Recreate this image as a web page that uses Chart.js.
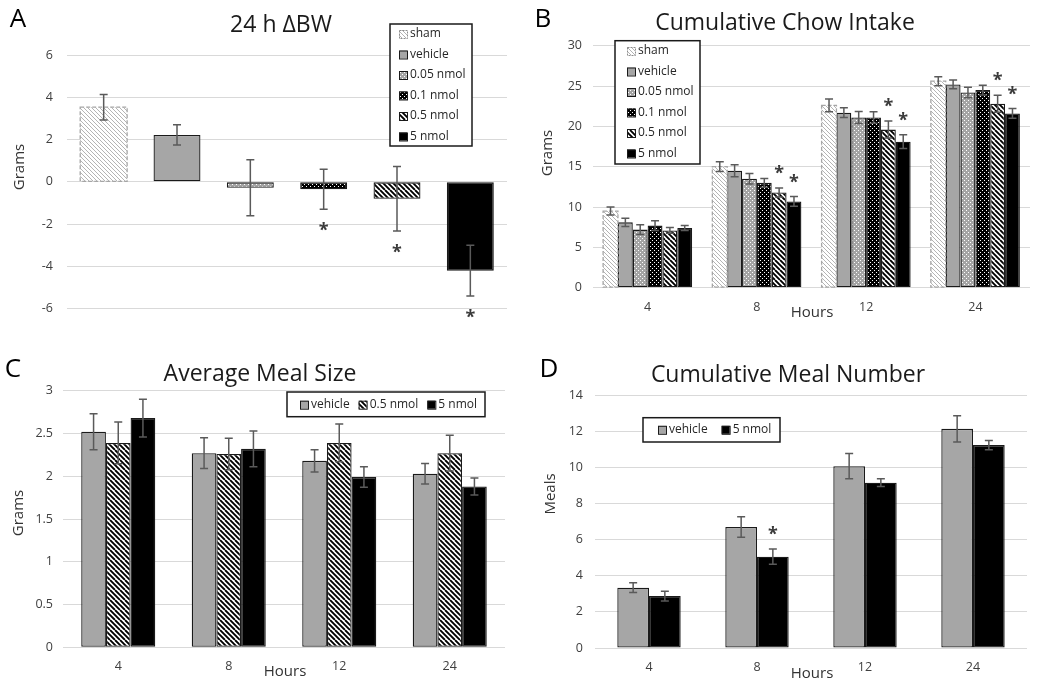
<!DOCTYPE html>
<html>
<head>
<meta charset="utf-8">
<title>Feeding panels</title>
<script src="https://cdn.jsdelivr.net/npm/chart.js@4.4.1/dist/chart.umd.min.js"></script>
<style>
  html, body { margin: 0; padding: 0; background: #fff; }
  #fig { position: relative; width: 1038px; height: 681px; font-family: "Open Sans", sans-serif; overflow: hidden; }
  #fig canvas { position: absolute; }
  .txt { position: absolute; transform: translate(-50%, -50%); white-space: nowrap; line-height: 1; }
  .letter { font-size: 26px; color: #000; }
  .title { font-size: 23px; color: #1a1a1a; }
  .axis { font-size: 15px; color: #333; }
  .vert { transform: translate(-50%, -50%) rotate(-90deg); }
</style>
</head>
<body>
<div id="fig">
  <canvas id="chartA" width="520" height="320" style="left:0;top:0"></canvas>
  <canvas id="chartB" width="518" height="320" style="left:520px;top:0"></canvas>
  <canvas id="chartC" width="520" height="361" style="left:0;top:320px"></canvas>
  <canvas id="chartD" width="518" height="361" style="left:520px;top:320px"></canvas>

  <div class="txt letter" style="left:18px;top:17px">A</div>
  <div class="txt letter" style="left:543px;top:17px">B</div>
  <div class="txt letter" style="left:13px;top:367px">C</div>
  <div class="txt letter" style="left:549px;top:367px">D</div>

  <div class="txt title" style="left:281px;top:23px">24 h ΔBW</div>
  <div class="txt title" style="left:785px;top:21px">Cumulative Chow Intake</div>
  <div class="txt title" style="left:260px;top:372px">Average Meal Size</div>
  <div class="txt title" style="left:788px;top:373px">Cumulative Meal Number</div>

  <div class="txt axis vert" style="left:18px;top:167px">Grams</div>
  <div class="txt axis vert" style="left:546px;top:153px">Grams</div>
  <div class="txt axis vert" style="left:17px;top:513px">Grams</div>
  <div class="txt axis vert" style="left:549px;top:494px">Meals</div>

  <div class="txt axis" style="left:812px;top:311px">Hours</div>
  <div class="txt axis" style="left:285px;top:670px">Hours</div>
  <div class="txt axis" style="left:812px;top:672px">Hours</div>
</div>

<script>
// ---- data ----
const groups = ["sham", "vehicle", "0.05 nmol", "0.1 nmol", "0.5 nmol", "5 nmol"];
const hours = ["4", "8", "12", "24"];

// A: 24 h change in body weight (g)
const bwMean = [3.53, 2.22, -0.28, -0.35, -0.8, -4.2];
const bwSem = [0.6, 0.48, 1.32, 0.95, 1.53, 1.2];
const bwSig = [false, false, false, true, true, true];
const bwTicks = [-6, -4, -2, 0, 2, 4, 6];

// B: cumulative chow intake (g)
const chowSham = [9.5, 15.0, 22.6, 25.6];
const chowVehicle = [8.1, 14.5, 21.7, 25.2];
const chow005 = [7.2, 13.5, 21.1, 24.2];
const chow01 = [7.7, 13.0, 21.1, 24.5];
const chow05 = [7.1, 11.8, 19.6, 22.8];
const chow5 = [7.4, 10.7, 18.1, 21.6];
const chowShamSem = [0.5, 0.6, 0.8, 0.55];
const chowVehicleSem = [0.5, 0.75, 0.6, 0.55];
const chow005Sem = [0.6, 0.65, 0.75, 0.65];
const chow01Sem = [0.6, 0.55, 0.7, 0.6];
const chow05Sem = [0.35, 0.55, 1.05, 1.05];
const chow5Sem = [0.3, 0.6, 0.85, 0.6];
const chow05Sig = [false, true, true, true];
const chow5Sig = [false, true, true, true];
const chowTicks = [0, 5, 10, 15, 20, 25, 30];

// C: average meal size (g)
const sizeLabels = ["vehicle", "0.5 nmol", "5 nmol"];
const sizeVehicle = [2.52, 2.27, 2.18, 2.03];
const size05 = [2.39, 2.26, 2.39, 2.27];
const size5 = [2.68, 2.32, 1.99, 1.88];
const sizeVehicleSem = [0.21, 0.18, 0.13, 0.12];
const size05Sem = [0.245, 0.185, 0.22, 0.21];
const size5Sem = [0.22, 0.21, 0.12, 0.1];
const sizeTicks = [0, 0.5, 1, 1.5, 2, 2.5, 3];

// D: cumulative meal number
const numLabels = ["vehicle", "5 nmol"];
const numVehicle = [3.34, 6.7, 10.07, 12.14];
const num5 = [2.88, 5.06, 9.16, 11.24];
const numVehicleSem = [0.27, 0.57, 0.7, 0.73];
const num5Sem = [0.27, 0.42, 0.21, 0.25];
const num5Sig = [false, true, false, false];
const numTicks = [0, 2, 4, 6, 8, 10, 12, 14];

// ---- fills ----
const FONT = "'Open Sans', sans-serif";

function makePattern(size, bg, draw) {
  const c = document.createElement("canvas");
  c.width = size;
  c.height = size;
  const g = c.getContext("2d");
  g.fillStyle = bg;
  g.fillRect(0, 0, size, size);
  draw(g, size);
  return g.createPattern(c, "repeat");
}

// "\" hatch, lines every s/2 px
function diag(g, s, color, w) {
  g.strokeStyle = color;
  g.lineWidth = w;
  g.beginPath();
  for (let k = -s; k <= s; k += s / 2) {
    g.moveTo(k, 0);
    g.lineTo(k + s, s);
  }
  g.stroke();
}

function dots(g) {
  g.fillStyle = "#fff";
  g.fillRect(0, 0, 1, 1);
  g.fillRect(2, 2, 1, 1);
}

const fill = {
  "sham": makePattern(8, "#fff", (g, s) => diag(g, s, "#b4b4b4", 1)),
  "vehicle": "#a6a6a6",
  "0.05 nmol": makePattern(4, "#a4a4a4", dots),
  "0.1 nmol": makePattern(4, "#000", dots),
  "0.5 nmol": makePattern(10, "#fff", (g, s) => diag(g, s, "#000", 1.9)),
  "5 nmol": "#000"
};

function style(name) {
  const sham = name === "sham";
  return {
    backgroundColor: fill[name],
    borderColor: sham ? "#a6a6a6" : "#1a1a1a",
    borderWidth: sham ? 0 : 1.3,
    dashed: sham
  };
}

// ---- plugins ----
const errorBars = {
  id: "errorBars",
  afterDatasetsDraw(chart) {
    const ctx = chart.ctx;
    const y = chart.scales.y;
    ctx.save();
    chart.data.datasets.forEach((ds, i) => {
      const meta = chart.getDatasetMeta(i);
      meta.data.forEach((bar, j) => {
        const v = ds.data[j];
        if (v == null) return;
        const p = bar.getProps(["x", "y", "base", "width"], true);
        // dashed outline (sham)
        if (ds.dashed) {
          ctx.setLineDash([4, 2]);
          ctx.strokeStyle = ds.borderColor;
          ctx.lineWidth = 1.3;
          ctx.strokeRect(p.x - p.width / 2, Math.min(p.y, p.base), p.width, Math.abs(p.base - p.y));
          ctx.setLineDash([]);
        }
        if (!ds.sem || ds.sem[j] == null) return;
        const hi = y.getPixelForValue(v + ds.sem[j]);
        const lo = y.getPixelForValue(v - ds.sem[j]);
        ctx.strokeStyle = "#5a5a5a";
        ctx.lineWidth = 1.5;
        ctx.beginPath();
        ctx.moveTo(p.x, hi); ctx.lineTo(p.x, lo);
        ctx.moveTo(p.x - 4, hi); ctx.lineTo(p.x + 4, hi);
        ctx.moveTo(p.x - 4, lo); ctx.lineTo(p.x + 4, lo);
        ctx.stroke();
        // significance star
        if (ds.sig && ds.sig[j]) {
          const cy = v >= 0 ? hi - 20 : lo + 16;
          ctx.fillStyle = "#3a3a3a";
          ctx.font = "bold 18px " + FONT;
          ctx.textAlign = "center";
          ctx.textBaseline = "alphabetic";
          ctx.fillText("*", p.x, cy + 11);
        }
      });
    });
    ctx.restore();
  }
};

const boxLegend = {
  id: "boxLegend",
  afterDraw(chart, args, o) {
    const ctx = chart.ctx;
    ctx.save();
    ctx.fillStyle = "#fff";
    ctx.fillRect(o.left, o.top, o.width, o.height);
    ctx.strokeStyle = "#1a1a1a";
    ctx.lineWidth = 1.5;
    ctx.strokeRect(o.left, o.top, o.width, o.height);
    ctx.font = "12px " + FONT;
    ctx.textBaseline = "middle";
    ctx.textAlign = "left";
    let x = o.itemLeft, y = o.itemTop;
    chart.data.datasets.forEach(ds => {
      ctx.fillStyle = ds.backgroundColor;
      ctx.fillRect(x, y - 4, 8, 8);
      ctx.lineWidth = 1;
      if (ds.dashed) ctx.setLineDash([2, 1]);
      ctx.strokeStyle = ds.dashed ? "#8c8c8c" : "#1a1a1a";
      ctx.strokeRect(x + 0.5, y - 3.5, 8, 8);
      ctx.setLineDash([]);
      ctx.fillStyle = "#262626";
      ctx.fillText(ds.label, x + 11, y);
      if (o.horizontal) x += 11 + ctx.measureText(ds.label).width + o.gap;
      else y += o.step;
    });
    ctx.restore();
  }
};

// ---- chart builder ----
function makeChart(id, c) {
  const t = c.ticks;
  return new Chart(document.getElementById(id), {
    type: "bar",
    data: { labels: c.labels, datasets: c.datasets },
    options: {
      responsive: false,
      animation: false,
      devicePixelRatio: 1,
      layout: { padding: c.pad },
      datasets: {
        bar: { categoryPercentage: c.cat, barPercentage: 1, borderSkipped: false, skipNull: true }
      },
      scales: {
        x: {
          display: c.showX,
          grid: { display: false },
          border: { display: false },
          ticks: { color: "#404040", font: { family: FONT, size: 12.5 }, padding: 4, maxRotation: 0 },
          afterFit: s => { if (c.showX) s.height = 30; }
        },
        y: {
          min: t[0],
          max: t[t.length - 1],
          grid: { color: "#d9d9d9", drawTicks: false },
          border: { display: false },
          ticks: {
            stepSize: t[1] - t[0],
            color: "#404040",
            font: { family: FONT, size: 12.5 },
            padding: c.yPad,
            callback: v => String(+v.toFixed(2))
          },
          afterFit: s => {
            s.width = c.yW;
            // layout padding already leaves room for the end labels
            s.paddingTop = 0;
            s.paddingBottom = 0;
          }
        }
      },
      plugins: {
        legend: { display: false },
        tooltip: { enabled: false },
        boxLegend: c.legend
      }
    },
    plugins: [errorBars, boxLegend]
  });
}

// A: one bar per group
makeChart("chartA", {
  labels: groups,
  datasets: groups.map((g, i) => Object.assign({
    label: g,
    data: groups.map((_, j) => (j === i ? bwMean[i] : null)),
    sem: groups.map((_, j) => (j === i ? bwSem[i] : null)),
    sig: groups.map((_, j) => j === i && bwSig[i])
  }, style(g))),
  ticks: bwTicks,
  cat: 0.64,
  showX: false,
  yW: 67, yPad: 14,
  pad: { left: 0, top: 55, right: 13, bottom: 11.3 },
  legend: { left: 390, top: 24, width: 82, height: 122, itemLeft: 399, itemTop: 34, step: 20.5 }
});

const chowMeans = [chowSham, chowVehicle, chow005, chow01, chow05, chow5];
const chowSems = [chowShamSem, chowVehicleSem, chow005Sem, chow01Sem, chow05Sem, chow5Sem];
const chowSigs = [null, null, null, null, chow05Sig, chow5Sig];

makeChart("chartB", {
  labels: hours,
  datasets: groups.map((g, i) => Object.assign({
    label: g, data: chowMeans[i], sem: chowSems[i], sig: chowSigs[i]
  }, style(g))),
  ticks: chowTicks,
  cat: 0.815,
  showX: true,
  yW: 73, yPad: 11,
  pad: { left: 0, top: 45.7, right: 8, bottom: 2.3 },
  legend: { left: 95, top: 40.7, width: 85, height: 123.3, itemLeft: 107, itemTop: 51, step: 20.5 }
});

const sizeMeans = [sizeVehicle, size05, size5];
const sizeSems = [sizeVehicleSem, size05Sem, size5Sem];

makeChart("chartC", {
  labels: hours,
  datasets: sizeLabels.map((g, i) => Object.assign({
    label: g, data: sizeMeans[i], sem: sizeSems[i]
  }, style(g))),
  ticks: sizeTicks,
  cat: 0.67,
  showX: true,
  yW: 63, yPad: 10,
  pad: { left: 0, top: 70.7, right: 15, bottom: 3.7 },
  legend: { left: 287, top: 72, width: 198, height: 24.7, horizontal: true, itemLeft: 300, itemTop: 84.7, gap: 9 }
});

const numMeans = [numVehicle, num5];
const numSems = [numVehicleSem, num5Sem];
const numSigs = [null, num5Sig];

makeChart("chartD", {
  labels: hours,
  datasets: numLabels.map((g, i) => Object.assign({
    label: g, data: numMeans[i], sem: numSems[i], sig: numSigs[i]
  }, style(g))),
  ticks: numTicks,
  cat: 0.587,
  showX: true,
  yW: 75, yPad: 12,
  pad: { left: 0, top: 75.3, right: 11, bottom: 3 },
  legend: { left: 123, top: 97.7, width: 137, height: 24.3, horizontal: true, itemLeft: 138, itemTop: 109.8, gap: 14 }
});
</script>
</body>
</html>
